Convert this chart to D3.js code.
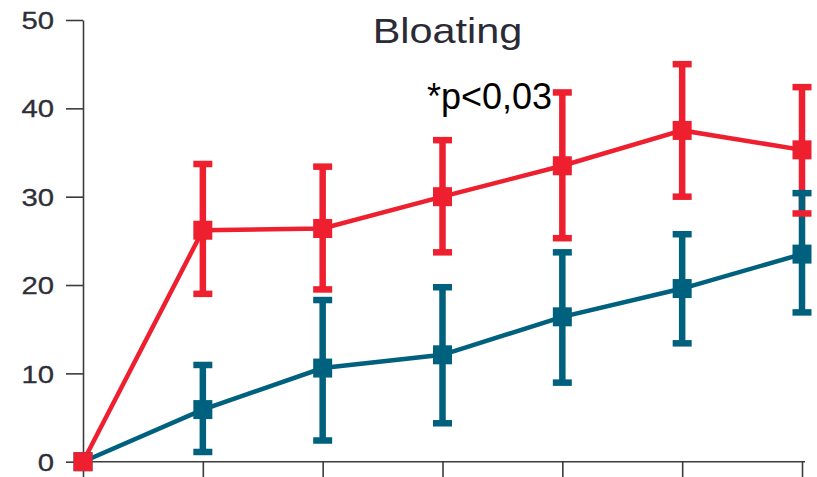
<!DOCTYPE html>
<html>
<head>
<meta charset="utf-8">
<script src="https://cdn.jsdelivr.net/npm/d3@7"></script>
<style>
  html, body { margin: 0; padding: 0; background: #fff; }
  svg { display: block; }
  text { font-family: "Liberation Sans", Arial, Helvetica, sans-serif; }
</style>
</head>
<body>
<svg id="chart" width="817" height="477"></svg>
<script>
// ---- data ----
const timepoints = [0, 1, 2, 3, 4, 5, 6];
const redMean  = [0, 26.2, 26.4, 30.0, 33.5, 37.5, 35.3];
const redLow   = [0, 19.0, 19.5, 23.7, 25.3, 30.0, 28.1];
const redHigh  = [0, 33.7, 33.4, 36.4, 41.8, 45.0, 42.4];
const blueMean = [0, 5.9, 10.6, 12.1, 16.4, 19.6, 23.5];
const blueLow  = [0, 1.1, 2.4, 4.35, 8.95, 13.4, 16.9];
const blueHigh = [0, 10.95, 18.3, 19.75, 23.7, 25.75, 30.4];
const yTicks = [0, 10, 20, 30, 40, 50];
const titleText = "Bloating";
const noteText = "*p<0,03";

// ---- setup ----
const svg = d3.select("#chart");
const RED = "#ee1f2e", BLUE = "#00617f", AXIS = "#3c3c3c";
const x = d3.scaleLinear().domain([0, 6]).range([83, 802]);
const y = d3.scaleLinear().domain([0, 50]).range([461.7, 20]);

// y axis
const yAxis = svg.append("g").attr("transform", "translate(83,0)")
  .call(d3.axisLeft(y).tickValues(yTicks).tickSize(17).tickSizeOuter(0));
yAxis.select(".domain").attr("stroke", AXIS).attr("stroke-width", 1.6);
yAxis.selectAll(".tick line").attr("stroke", AXIS).attr("stroke-width", 1.6);
yAxis.selectAll(".tick text")
  .attr("fill", "#2e2e38")
  .attr("stroke", "#2e2e38").attr("stroke-width", 0.3)
  .style("font-size", "24px")
  .attr("text-anchor", "end")
  .attr("x", -29 / 1.22)
  .attr("dy", "0.36em")
  .attr("transform", "scale(1.22,1)");

// x axis
const xAxis = svg.append("g").attr("transform", `translate(0,${y(0)})`)
  .call(d3.axisBottom(x).tickValues(timepoints).tickSize(16).tickSizeOuter(0).tickFormat(""));
xAxis.select(".domain").attr("stroke", AXIS).attr("stroke-width", 1.6)
  .attr("d", `M${x(0)},0H${x(6) + 3}`);
xAxis.selectAll(".tick line").attr("stroke", AXIS).attr("stroke-width", 1.6);

// title and note
svg.append("text")
  .attr("transform", "translate(447.5,43) scale(1.15,1)")
  .attr("text-anchor", "middle")
  .attr("fill", "#2b2b36")
  .style("font-size", "36px")
  .text(titleText);
svg.append("text")
  .attr("x", 427).attr("y", 108.5)
  .attr("fill", "#000")
  .style("font-size", "36px")
  .text(noteText);

// build series
function series(mean, low, high) {
  return timepoints.map((t, i) => ({ t, m: mean[i], lo: low[i], hi: high[i] }));
}
const red = series(redMean, redLow, redHigh);
const blue = series(blueMean, blueLow, blueHigh);
const capW = 19, capH = 6.5, barW = 6.5, sq = 19;

function verticals(data, color) {
  svg.append("g").selectAll("line").data(data.filter(d => d.hi > d.lo)).join("line")
    .attr("x1", d => x(d.t)).attr("x2", d => x(d.t))
    .attr("y1", d => y(d.hi)).attr("y2", d => y(d.lo))
    .attr("stroke", color).attr("stroke-width", barW);
}
function caps(data, color) {
  const g = svg.append("g");
  const d2 = data.filter(d => d.hi > d.lo);
  ["hi", "lo"].forEach(k => {
    g.selectAll("rect." + k).data(d2).join("rect").attr("class", k)
      .attr("x", d => x(d.t) - capW / 2).attr("y", d => y(d[k]) - capH / 2)
      .attr("width", capW).attr("height", capH).attr("fill", color);
  });
}
verticals(red, RED);
verticals(blue, BLUE);
caps(blue, BLUE);
caps(red, RED);

const line = d3.line().x(d => x(d.t)).y(d => y(d.m));
svg.append("path").datum(blue).attr("d", line).attr("fill", "none")
  .attr("stroke", BLUE).attr("stroke-width", 4.5);
svg.append("path").datum(red).attr("d", line).attr("fill", "none")
  .attr("stroke", RED).attr("stroke-width", 4.5);

function squares(data, color) {
  svg.append("g").selectAll("rect").data(data).join("rect")
    .attr("x", d => x(d.t) - sq / 2).attr("y", d => y(d.m) - sq / 2)
    .attr("width", sq).attr("height", sq).attr("fill", color);
}
squares(blue, BLUE);
squares(red, RED);
</script>
</body>
</html>
